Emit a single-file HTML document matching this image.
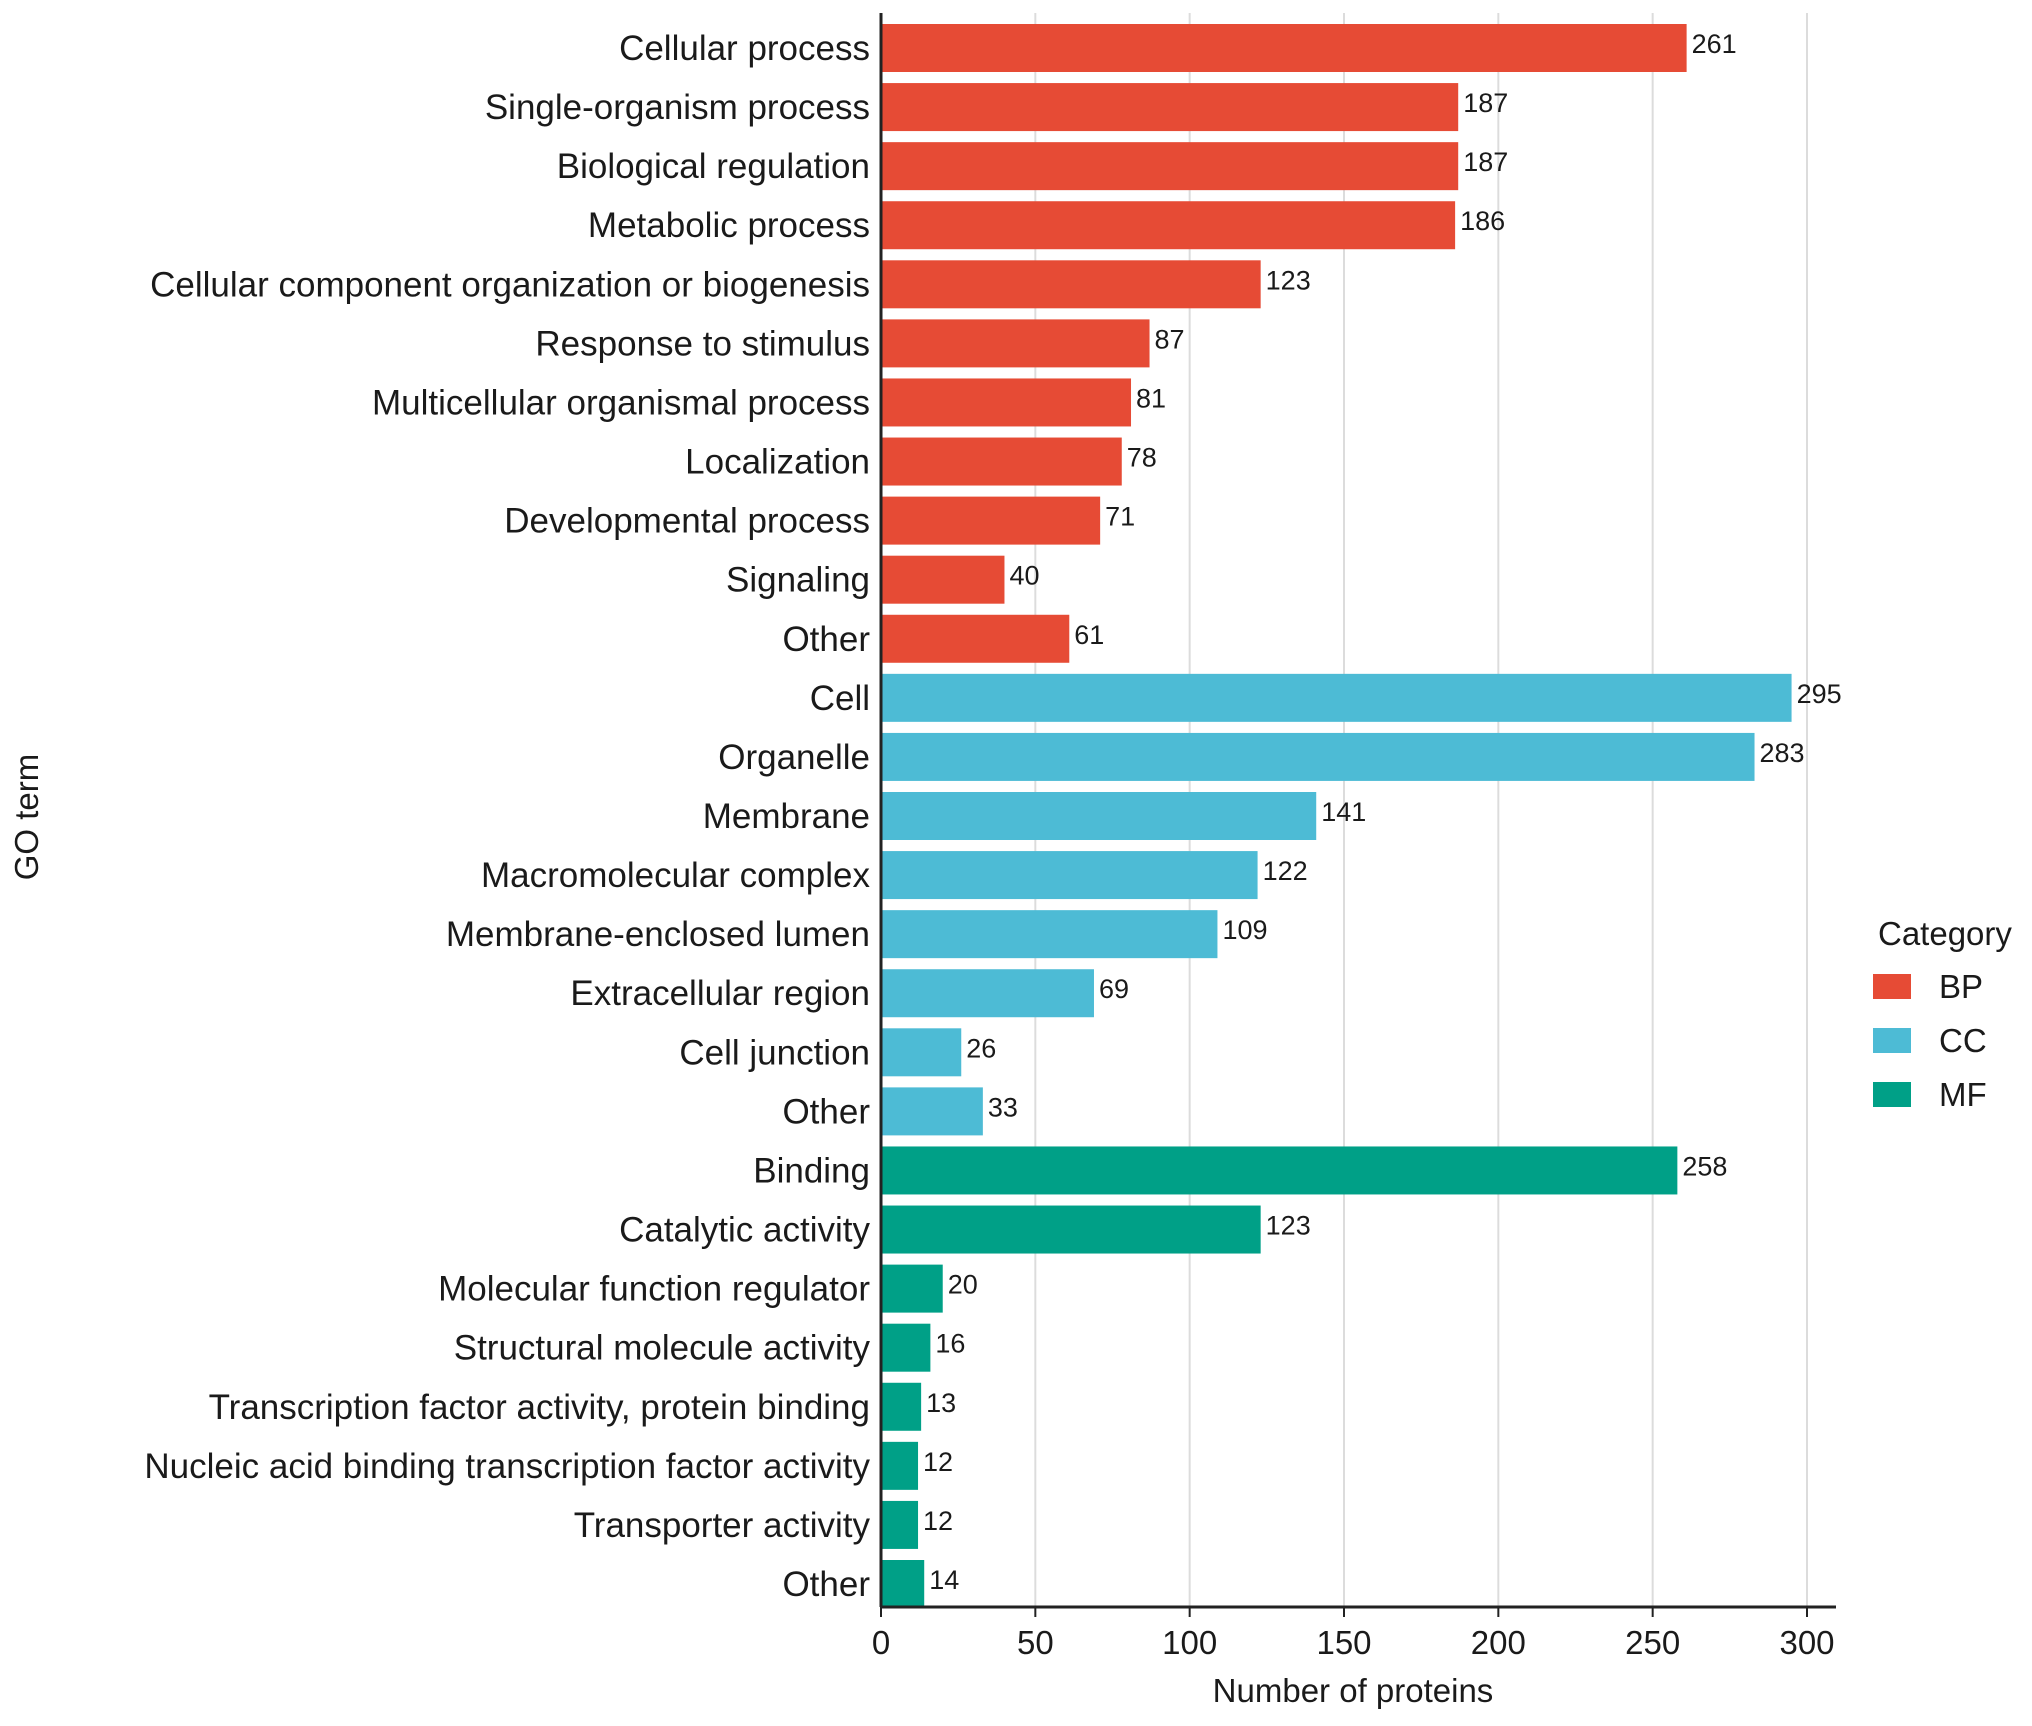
<!DOCTYPE html>
<html><head><meta charset="utf-8"><style>
html,body{margin:0;padding:0;background:#fff}
svg text{font-family:"Liberation Sans",Arial,sans-serif;fill:#1a1a1a}
</style></head><body>
<svg id="chart" width="2032" height="1721" viewBox="0 0 2032 1721" xmlns="http://www.w3.org/2000/svg">
<g id="grid"></g><g id="bars"></g><g id="axes"></g><g id="legend"></g>
<text transform="translate(38,817) rotate(-90)" text-anchor="middle" font-size="33">GO term</text>
<text x="1353" y="1702" text-anchor="middle" font-size="33">Number of proteins</text>
</svg>
<script>
const categories=["Cellular process","Single-organism process","Biological regulation","Metabolic process","Cellular component organization or biogenesis","Response to stimulus","Multicellular organismal process","Localization","Developmental process","Signaling","Other","Cell","Organelle","Membrane","Macromolecular complex","Membrane-enclosed lumen","Extracellular region","Cell junction","Other","Binding","Catalytic activity","Molecular function regulator","Structural molecule activity","Transcription factor activity, protein binding","Nucleic acid binding transcription factor activity","Transporter activity","Other"];
const values=[261,187,187,186,123,87,81,78,71,40,61,295,283,141,122,109,69,26,33,258,123,20,16,13,12,12,14];
const groups=["BP","BP","BP","BP","BP","BP","BP","BP","BP","BP","BP","CC","CC","CC","CC","CC","CC","CC","CC","MF","MF","MF","MF","MF","MF","MF","MF"];
const legendLabels=["BP","CC","MF"];
const xTicks=[0,50,100,150,200,250,300];
const colors={BP:"#E64B35",CC:"#4DBBD5",MF:"#00A087"};
const NS="http://www.w3.org/2000/svg";
const x0=881,xUnit=(1807-881)/300,yTop=48,step=(1584-48)/26,barH=48,axisY=1607;
const xs=v=>x0+v*xUnit, ys=i=>yTop+i*step;
function mk(tag,attrs,parent,txt){const e=document.createElementNS(NS,tag);for(const k in attrs)e.setAttribute(k,attrs[k]);if(txt!=null)e.textContent=txt;parent.appendChild(e);return e;}
const grid=document.getElementById('grid'),bars=document.getElementById('bars'),axes=document.getElementById('axes'),leg=document.getElementById('legend');
xTicks.forEach(t=>{
  const g=mk('line',{x1:xs(t),x2:xs(t),y1:13,y2:axisY,stroke:"#dcdcdc","stroke-width":2},grid);
  
  
  const tk=mk('line',{x1:xs(t),x2:xs(t),y1:axisY,y2:axisY+10,stroke:"#222","stroke-width":2},axes);
  
  
  const tl=mk('text',{x:xs(t),y:axisY+47,"text-anchor":"middle","font-size":33},axes,t);
  
  
});
categories.forEach((c,i)=>{
  const y=ys(i);
  const r=mk('rect',{x:x0,y:y-barH/2,width:xs(values[i])-x0,height:barH,fill:colors[groups[i]]},bars);
  
  
  const v=mk('text',{x:xs(values[i])+5,y:y+5,"font-size":27},bars,values[i]);
  
  
  const l=mk('text',{x:870,y:y+12,"text-anchor":"end","font-size":35},axes,c);
  
  
});
const ya=mk('line',{x1:x0,x2:x0,y1:13,y2:axisY,stroke:"#222","stroke-width":3},axes);


const xa=mk('line',{x1:x0-1,x2:1836,y1:axisY,y2:axisY,stroke:"#222","stroke-width":3},axes);


const lt=mk('text',{x:1878,y:945,"font-size":33},leg,"Category");


legendLabels.forEach((g,i)=>{
  const y=986+i*54;
  const k=mk('rect',{x:1873,y:y-12,width:38,height:25,fill:colors[g]},leg);
  
  
  const t=mk('text',{x:1939,y:y+12,"font-size":33},leg,g);
  
  
});
</script>
</body></html>
